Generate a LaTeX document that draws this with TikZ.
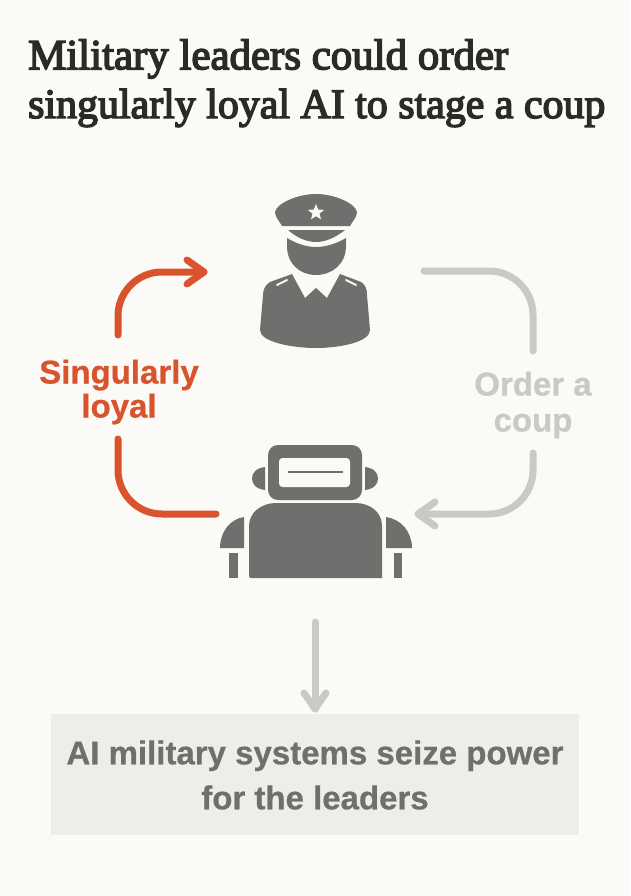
\documentclass[tikz,border=0pt]{standalone}
\usepackage{fontspec}
\setmainfont{Liberation Sans}[BoldFeatures={FakeBold=0.6}]
\newfontfamily\titlefont{Liberation Serif}[FakeBold=3.5]
\usetikzlibrary{arrows.meta,shapes.geometric}
\definecolor{bgc}{HTML}{FBFAF6}
\definecolor{ink}{HTML}{706F6D}
\definecolor{dark}{HTML}{2B2A28}
\definecolor{redc}{HTML}{D9532D}
\definecolor{lgrey}{HTML}{C9C9C6}
\definecolor{boxc}{HTML}{EFEDE8}
\tikzset{
 link/.style={line width=7pt,line cap=round,line join=round,rounded corners=44pt},
 redlink/.style={link,draw=redc},
 greylink/.style={link,draw=lgrey},
 barb/.style={line width=7pt,line cap=round,line join=round},
 titletext/.style={anchor=west,inner sep=0,font=\fontsize{41.9pt}{44pt}\selectfont\titlefont,text=dark},
 lab/.style={align=center,inner sep=0,font=\fontsize{33pt}{34pt}\selectfont\bfseries},
 glyph/.style={fill=ink,draw=none},
}
\begin{document}
\begin{tikzpicture}[x=1pt,y=-1pt]
\useasboundingbox (0,0) rectangle (630,896);
\fill[bgc] (0,0) rectangle (630,896);
% title
\node[titletext,font=\fontsize{42.9pt}{44pt}\selectfont\titlefont] (t1) at (28,59) {Military leaders could order};
\node[titletext] (t2) at (28,108) {singularly loyal AI to stage a coup};
% officer
\fill[glyph] (275,212) .. controls (277,203) and (298,194) .. (316,194) .. controls (334,194) and (355,203) .. (357,212) .. controls (357,217) and (352,222) .. (350,226) -- (282,226) .. controls (280,222) and (275,217) .. (275,212) -- cycle;
\node[star,star points=5,star point ratio=2.3,fill=bgc,inner sep=0,minimum size=17pt] (cstar) at (316,212.5) {};
\fill[glyph] (288,230) -- (345,230) .. controls (335,238) and (325,242) .. (316,242) .. controls (307,242) and (297,238) .. (288,230) -- cycle;
\fill[glyph] (287,238) .. controls (297,244) and (307,247) .. (316,247) .. controls (325,247) and (336,244) .. (346,238) -- (346,246) .. controls (346,264) and (332,275) .. (316,275) .. controls (300,275) and (287,264) .. (287,246) -- cycle;
\fill[glyph] (292,274) -- (305,298) -- (316,288) -- (327,298) -- (340,274) -- (361,282) .. controls (366,285) and (367,290) .. (367,295) -- (370,330) .. controls (370,342) and (340,348) .. (316,348) .. controls (292,348) and (260,342) .. (260,330) -- (263,295) .. controls (263,290) and (265,285) .. (270,282) -- cycle;
\draw[bgc,line width=2pt,line cap=round] (277,285) -- (287,280);
\draw[bgc,line width=2pt,line cap=round] (346,280) -- (356,285);
\coordinate (officerL) at (204,272);
\coordinate (officerR) at (424,271);
% robot
\fill[glyph,rounded corners=10pt] (268,445) rectangle (362,500);
\fill[bgc,rounded corners=3.5pt] (279,458) rectangle (350,487);
\draw[ink,line width=2pt] (288,472) -- (343,472);
\fill[glyph] (265,467) .. controls (256,468) and (252,473) .. (252,478.5) .. controls (252,484) and (256,489) .. (265,490) -- cycle;
\fill[glyph] (365,467) .. controls (374,468) and (378,473) .. (378,478.5) .. controls (378,484) and (374,489) .. (365,490) -- cycle;
\fill[glyph] (249,576) -- (249,526) .. controls (249,512) and (262,503) .. (276,503) -- (355,503) .. controls (370,503) and (382,512) .. (382,526) -- (382,578) -- (251,578) .. controls (250,578) and (249,577) .. (249,576) -- cycle;
\fill[glyph] (244,517) -- (244,548) -- (220,548) .. controls (220,532) and (230,519) .. (244,517) -- cycle;
\fill[glyph] (386,517) -- (386,548) -- (412,548) .. controls (412,532) and (401,519) .. (386,517) -- cycle;
\fill[glyph] (229,553) rectangle (238,578);
\fill[glyph] (394,553) rectangle (402,578);
\coordinate (robotL) at (216,514);
\coordinate (robotR) at (418,514);
% labels
\node[lab,text=redc] (sl) at (119,392) {Singularly\\loyal};
\node[lab,text=lgrey,font=\fontsize{33pt}{36pt}\selectfont\bfseries] (oc) at (533,405) {Order a\\coup};
% connectors
\coordinate (slT) at (118,335);
\coordinate (slB) at (118,439);
\coordinate (ocT) at (533,351);
\coordinate (ocB) at (533,453);
\draw[redlink] (slT) |- (officerL);
\draw[redc,barb] (187,260) -- (officerL) -- (187,284);
\draw[redlink] (slB) |- (robotL);
\draw[greylink] (officerR) -| (ocT);
\draw[greylink] (ocB) |- (robotR);
\draw[lgrey,barb] (435,502) -- (robotR) -- (435,526);
% result
\node[fill=boxc,minimum width=528pt,minimum height=121pt,inner sep=0] (res) at (315,774.5) {};
\node[lab,text=ink,font=\fontsize{33pt}{45pt}\selectfont\bfseries] (restext) at (315,775) {AI military systems seize power\\for the leaders};
\coordinate (robotB) at (315,622);
\coordinate (resT) at (315,709);
\draw[lgrey,barb] (robotB) -- (resT);
\draw[lgrey,barb] (304,693) -- (resT) -- (326,693);
\end{tikzpicture}
\end{document}
